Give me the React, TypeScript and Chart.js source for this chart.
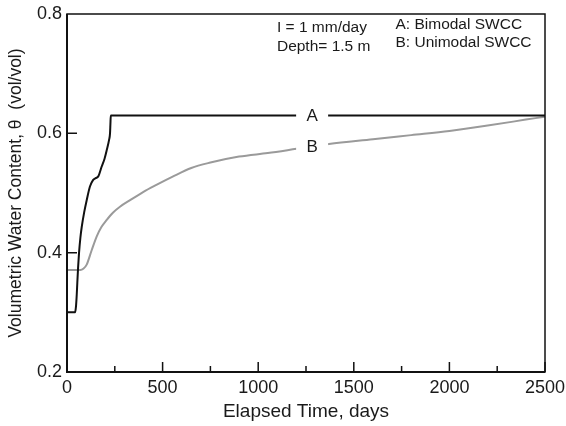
import React, { useEffect, useRef } from "react";
import { Chart, registerables } from "chart.js";
Chart.register(...registerables);

const daysA = [0, 42, 47, 51, 54, 58, 63, 70, 77, 90, 103, 120, 137, 150, 164, 181, 196, 208, 220, 225, 227, 229, 2500];
const thetaA = [0.3, 0.3, 0.31, 0.33, 0.35, 0.375, 0.4, 0.425, 0.443, 0.468, 0.488, 0.511, 0.522, 0.525, 0.528, 0.544, 0.557, 0.572, 0.589, 0.6, 0.615, 0.63, 0.63];

const daysB = [0, 70, 85, 103, 129, 155, 180, 208, 240, 277, 330, 400, 470, 550, 650, 750, 900, 1050, 1200, 1370, 1600, 1800, 2000, 2200, 2400, 2500];
const thetaB = [0.371, 0.371, 0.373, 0.38, 0.404, 0.427, 0.443, 0.455, 0.467, 0.477, 0.488, 0.502, 0.514, 0.527, 0.542, 0.551, 0.561, 0.567, 0.574, 0.582, 0.59, 0.597, 0.604, 0.613, 0.623, 0.628];

const curveLabels = ["A", "B"];
const curveLabelX = [1282, 1282];
const curveLabelY = [0.63, 0.578];

const noteLinesLeft = ["I = 1 mm/day", "Depth= 1.5 m"];
const noteLeftX = 1098;
const noteLeftY = [0.7765, 0.745];
const noteLinesRight = ["A: Bimodal SWCC", "B: Unimodal SWCC"];
const noteRightX = 1718;
const noteRightY = [0.782, 0.752];

const xMajorTicks = [0, 500, 1000, 1500, 2000, 2500];
const xMinorTicks = [250, 750, 1250, 1750, 2250];
const yMajorTicks = [0.4, 0.6];

const FONT = "'Liberation Sans', Arial, Helvetica, sans-serif";
const TEXT = "#1a1a1a";

const decorPlugin = {
  id: "decor",
  afterDatasetsDraw(chart: any) {
    const { ctx, chartArea, scales } = chart;
    const xs = scales.x;
    const ys = scales.y;
    ctx.save();
    ctx.strokeStyle = "#111";
    ctx.lineWidth = 1.5;
    ctx.strokeRect(chartArea.left, chartArea.top, chartArea.right - chartArea.left, chartArea.bottom - chartArea.top);
    ctx.lineWidth = 2;
    ctx.beginPath();
    ctx.moveTo(chartArea.left, chartArea.top);
    ctx.lineTo(chartArea.left, chartArea.bottom);
    ctx.lineTo(chartArea.right, chartArea.bottom);
    ctx.stroke();
    ctx.lineWidth = 1.5;
    ctx.beginPath();
    xMajorTicks.forEach((v) => {
      const px = xs.getPixelForValue(v);
      ctx.moveTo(px, chartArea.bottom);
      ctx.lineTo(px, chartArea.bottom - 10);
    });
    xMinorTicks.forEach((v) => {
      const px = xs.getPixelForValue(v);
      ctx.moveTo(px, chartArea.bottom);
      ctx.lineTo(px, chartArea.bottom - 6);
    });
    yMajorTicks.forEach((v) => {
      const py = ys.getPixelForValue(v);
      ctx.moveTo(chartArea.left, py);
      ctx.lineTo(chartArea.left + 10, py);
    });
    ctx.stroke();
    ctx.font = `17px ${FONT}`;
    ctx.textAlign = "center";
    ctx.textBaseline = "middle";
    curveLabels.forEach((t, i) => {
      const px = xs.getPixelForValue(curveLabelX[i]);
      const py = ys.getPixelForValue(curveLabelY[i]);
      ctx.fillStyle = "#fff";
      ctx.fillRect(px - 16, py - 6, 32, 12);
      ctx.fillStyle = TEXT;
      ctx.fillText(t, px, py + 1);
    });
    ctx.font = `15.5px ${FONT}`;
    ctx.textAlign = "left";
    noteLinesLeft.forEach((t, i) => {
      ctx.fillText(t, xs.getPixelForValue(noteLeftX), ys.getPixelForValue(noteLeftY[i]));
    });
    noteLinesRight.forEach((t, i) => {
      ctx.fillText(t, xs.getPixelForValue(noteRightX), ys.getPixelForValue(noteRightY[i]));
    });
    ctx.restore();
  },
};

export default function App() {
  const ref = useRef<HTMLCanvasElement>(null);
  useEffect(() => {
    if (!ref.current) return;
    const chart = new Chart(ref.current, {
      type: "line",
      data: {
        datasets: [
          {
            label: "A",
            data: daysA.map((d, i) => ({ x: d, y: thetaA[i] })),
            borderColor: "#111",
            borderWidth: 2,
            pointRadius: 0,
            cubicInterpolationMode: "monotone",
            fill: false,
          },
          {
            label: "B",
            data: daysB.map((d, i) => ({ x: d, y: thetaB[i] })),
            borderColor: "#9a9a9a",
            borderWidth: 2,
            pointRadius: 0,
            cubicInterpolationMode: "monotone",
            fill: false,
          },
        ],
      },
      options: {
        animation: false,
        responsive: false,
        maintainAspectRatio: false,
        layout: { padding: { top: 14, right: 21, left: 0, bottom: 0 } },
        plugins: { legend: { display: false }, tooltip: { enabled: false } },
        scales: {
          x: {
            type: "linear",
            min: 0,
            max: 2500,
            grid: { display: false, drawTicks: false },
            border: { display: false },
            ticks: {
              stepSize: 500,
              padding: 5,
              color: TEXT,
              font: { family: FONT, size: 18 },
              maxRotation: 0,
              callback: (v: any) => String(v),
            },
            title: {
              display: true,
              text: "Elapsed Time, days",
              color: TEXT,
              font: { family: FONT, size: 19 },
              padding: { top: 4, bottom: 3 },
            },
            afterFit: (s: any) => {
              s.height = 54;
              s.paddingLeft = 0;
              s.paddingRight = 0;
            },
          },
          y: {
            type: "linear",
            min: 0.2,
            max: 0.8,
            grid: { display: false, drawTicks: false },
            border: { display: false },
            ticks: {
              stepSize: 0.2,
              padding: 5,
              color: TEXT,
              font: { family: FONT, size: 18 },
              callback: (v: any) => Number(v).toFixed(1),
            },
            title: {
              display: true,
              text: "Volumetric Water Content, \u03b8  (vol/vol)",
              color: TEXT,
              font: { family: FONT, size: 17.5 },
              padding: { top: 6, bottom: 0 },
            },
            afterFit: (s: any) => {
              s.width = 67;
              s.paddingTop = 0;
              s.paddingBottom = 0;
            },
          },
        },
      },
      plugins: [decorPlugin],
    });
    return () => chart.destroy();
  }, []);
  return (
    <div style={{ position: "absolute", left: 0, top: 0, width: 566, height: 426, background: "#fff" }}>
      <canvas ref={ref} width={566} height={426} style={{ width: 566, height: 426 }} />
    </div>
  );
}
